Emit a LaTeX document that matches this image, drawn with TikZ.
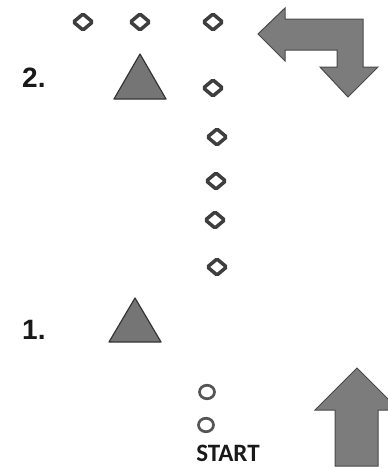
\documentclass[tikz,border=0pt]{standalone}
\usepackage{fontspec}
\setmainfont{Liberation Sans}
\newfontfamily\labelfont{Carlito}
\usetikzlibrary{shapes.geometric}
\definecolor{inkgray}{HTML}{3E3E3E}
\definecolor{ringgray}{HTML}{555555}
\definecolor{shapefill}{HTML}{757575}
\definecolor{shapeedge}{HTML}{353535}
\definecolor{arrowfill}{HTML}{7C7C7C}
\definecolor{arrowedge}{HTML}{4A4A4A}
\begin{document}
\begin{tikzpicture}[x=1pt,y=-1pt,
  gem/.style={diamond, draw=inkgray, line width=3.5pt, fill=white,
    minimum width=20.5pt, minimum height=17.5pt, inner sep=0pt, rounded corners=1.5pt},
  ring/.style={ellipse, draw=ringgray, line width=2.7pt,
    minimum width=15pt, minimum height=13.5pt, inner sep=0pt},
  peak/.style={fill=shapefill, draw=shapeedge, line width=1.2pt, line join=round},
  bigarrow/.style={fill=arrowfill, draw=arrowedge, line width=1pt, line join=miter},
  steplabel/.style={font=\fontsize{28}{28}\selectfont\bfseries, text=black!90,
    anchor=base west, inner sep=0pt}]
  \useasboundingbox (0,0) rectangle (388,469);
  \clip (0,0) rectangle (388,469);

  % step numbers
  \node[steplabel] (n2) at (22,87) {2.};
  \node[steplabel] (n1) at (22,339) {1.};

  % triangles
  \draw[peak] (114,99) -- (140,54) -- (166,99) -- cycle;
  \draw[peak] (109,342) -- (135,298) -- (161,342) -- cycle;

  % diamond markers
  \node[gem] (d1) at (83,22) {};
  \node[gem] (d2) at (140,22) {};
  \node[gem] (d3) at (213,22) {};
  \node[gem] (d4) at (213,88) {};
  \node[gem] (d5) at (217,137) {};
  \node[gem] (d6) at (216,181) {};
  \node[gem] (d7) at (215,220) {};
  \node[gem] (d8) at (217,267) {};

  % circle markers and start label
  \node[ring] (c1) at (207,392) {};
  \node[ring] (c2) at (206,425) {};
  \node[font=\labelfont\fontsize{25}{25}\selectfont\bfseries, text=black!90,
        anchor=base, inner sep=0pt] (start) at (228,461) {START};

  % turn arrow: left, then down
  \draw[bigarrow] (258,34) -- (285,8) -- (285,19) -- (363,19) -- (363,67)
    -- (378,67) -- (348,97) -- (320,67) -- (337,67) -- (337,50)
    -- (285,50) -- (285,61) -- cycle;

  % straight arrow: up
  \draw[bigarrow] (357,368) -- (399,410) -- (378,410) -- (378,466)
    -- (335,466) -- (335,410) -- (315,410) -- cycle;
\end{tikzpicture}
\end{document}
